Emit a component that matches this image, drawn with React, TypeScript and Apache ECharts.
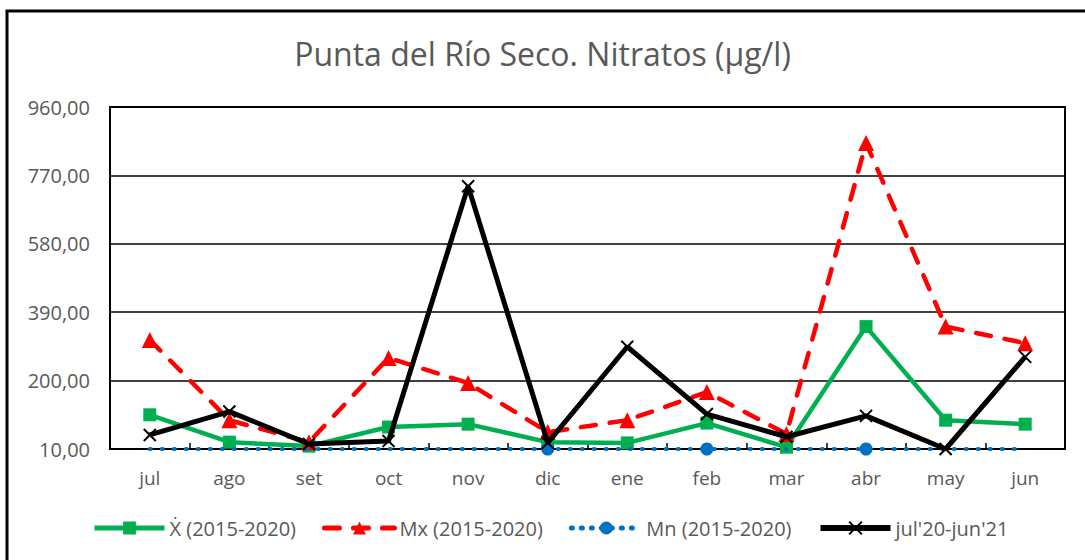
import React, { useEffect, useRef } from "react";
import * as echarts from "echarts";

const categories = ["jul", "ago", "set", "oct", "nov", "dic", "ene", "feb", "mar", "abr", "may", "jun"];
const meanValues = [105, 29, 18, 71, 79, 29, 27, 82, 15, 350, 90, 79];
const maxValues = [313, 90, 29, 263, 193, 57, 90, 168, 52, 860, 350, 304];
const minValues = [10, 10, 10, 10, 10, 10, 10, 10, 10, 10, 10, 10];
const minMarked = [false, false, false, false, false, true, false, true, false, true, false, false];
const currentValues = [49, 114, 24, 32, 740, 27, 294, 107, 44, 102, 10, 266];
const seriesNames = ["Ẋ (2015-2020)", "Mx (2015-2020)", "Mn (2015-2020)", "jul'20-jun'21"];
const axisBase = 10;
const axisTop = 960;
const axisStep = 190;

const FONT = "'Open Sans', 'Noto Sans', sans-serif";
const GREY = "#595959";

export default function App() {
  const ref = useRef<HTMLDivElement>(null);
  useEffect(() => {
    if (!ref.current) return;
    const chart = echarts.init(ref.current, undefined, { renderer: "svg" });
    const shift = (arr: number[]) => arr.map((v) => v - axisBase);
    const xMark = "path://M0,0L10,10M10,0L0,10";
    const redDash = [15, 14];
    const blueDot = [1, 11];
    chart.setOption({
      animation: false,
      backgroundColor: "#fff",
      textStyle: { fontFamily: FONT },
      title: {
        text: "Punta del Río Seco. Nitratos (µg/l)",
        left: "center",
        top: 32,
        textStyle: { fontFamily: FONT, fontSize: 32, fontWeight: "normal", color: GREY },
      },
      graphic: [
        {
          type: "rect",
          shape: { x: 7, y: 11, width: 1200, height: 700 },
          style: { fill: "none", stroke: "#000", lineWidth: 3 },
          silent: true,
        },
      ],
      legend: {
        bottom: 17,
        left: 87,
        itemWidth: 70,
        itemHeight: 16,
        itemGap: 26,
        textStyle: { fontFamily: FONT, fontSize: 20, color: GREY },
        data: [
          { name: seriesNames[0], lineStyle: { width: 5 } },
          { name: seriesNames[1], lineStyle: { width: 5, type: redDash, cap: "round" } },
          { name: seriesNames[2], lineStyle: { width: 5, type: [1, 9], cap: "round" } },
          { name: seriesNames[3], lineStyle: { width: 6 } },
        ],
      },
      grid: {
        left: 110,
        right: 20,
        top: 107,
        bottom: 111,
        show: true,
        borderColor: "#000",
        borderWidth: 2,
        containLabel: false,
      },
      xAxis: {
        type: "category",
        data: categories,
        boundaryGap: true,
        axisLine: { lineStyle: { color: "#000", width: 2 } },
        axisTick: { show: true, inside: true, length: 6, lineStyle: { color: "#000", width: 1.5 } },
        axisLabel: { fontFamily: FONT, fontSize: 19, color: GREY, margin: 19 },
      },
      yAxis: {
        type: "value",
        min: 0,
        max: axisTop - axisBase,
        interval: axisStep,
        axisLine: { show: false },
        axisTick: { show: false },
        splitLine: { lineStyle: { color: "#000", width: 1.5 } },
        axisLabel: {
          fontFamily: FONT,
          fontSize: 20,
          color: GREY,
          margin: 20,
          formatter: (v: number) => (v + axisBase).toFixed(2).replace(".", ","),
        },
      },
      series: [
        {
          name: seriesNames[0],
          type: "line",
          data: shift(meanValues),
          symbol: "rect",
          symbolSize: 13,
          color: "#00B050",
          itemStyle: { color: "#00B050" },
          lineStyle: { color: "#00B050", width: 4.5 },
          z: 2,
        },
        {
          name: seriesNames[1],
          type: "line",
          data: shift(maxValues),
          symbol: "triangle",
          symbolSize: 16,
          color: "#FF0000",
          itemStyle: { color: "#FF0000" },
          lineStyle: { color: "#FF0000", width: 4.5, type: redDash, cap: "round" },
          z: 3,
        },
        {
          name: seriesNames[2],
          type: "line",
          data: shift(minValues).map((v, i) =>
            minMarked[i] ? { value: v } : { value: v, symbol: "none" }
          ),
          symbol: "circle",
          symbolSize: 13,
          color: "#0070C0",
          itemStyle: { color: "#0070C0" },
          lineStyle: { color: "#0070C0", width: 4, type: blueDot, cap: "round" },
          z: 4,
        },
        {
          name: seriesNames[3],
          type: "line",
          data: shift(currentValues),
          symbol: xMark,
          symbolSize: 12,
          color: "#000",
          itemStyle: { color: "#000", borderColor: "#000", borderWidth: 2 },
          lineStyle: { color: "#000", width: 5 },
          z: 5,
        },
      ],
    });
    return () => chart.dispose();
  }, []);
  return (
    <div
      ref={ref}
      style={{ position: "fixed", left: 0, top: 0, width: 1085, height: 560 }}
    />
  );
}
